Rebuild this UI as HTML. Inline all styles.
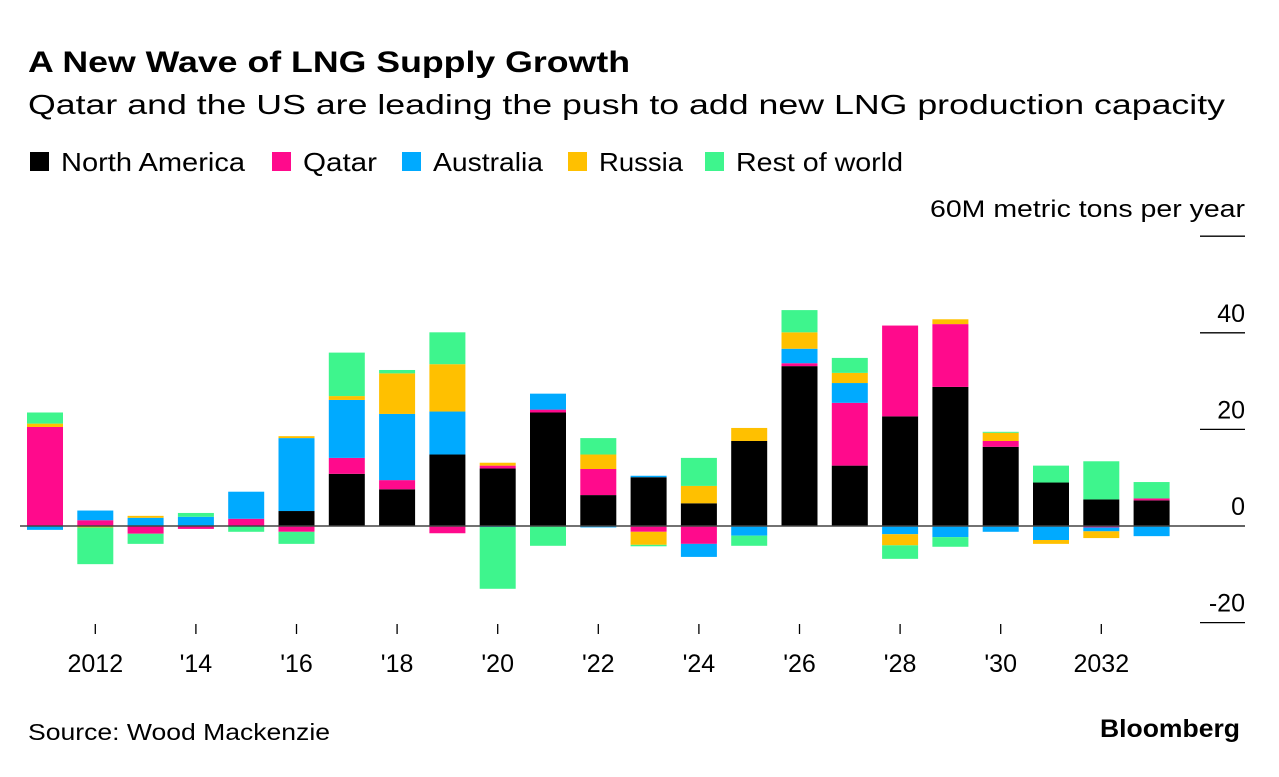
<!DOCTYPE html>
<html><head><meta charset="utf-8"><style>
body{margin:0;background:#fff;font-family:"Liberation Sans",sans-serif;}
svg text{font-family:"Liberation Sans",sans-serif;}
</style></head><body>
<svg width="1279" height="772" viewBox="0 0 1279 772">
<text x="28" y="72" font-size="30" font-weight="bold" fill="#000" textLength="602" lengthAdjust="spacingAndGlyphs">A New Wave of LNG Supply Growth</text>
<text x="28" y="114" font-size="28" fill="#000" textLength="1197" lengthAdjust="spacingAndGlyphs">Qatar and the US are leading the push to add new LNG production capacity</text>
<g id="legend"></g>
<text x="1245" y="217" font-size="24" text-anchor="end" fill="#000" textLength="315" lengthAdjust="spacingAndGlyphs">60M metric tons per year</text>
<g id="grid"></g>
<g id="bars"></g>
<g id="xaxis"></g>
<text x="28" y="740" font-size="23" fill="#000" textLength="302" lengthAdjust="spacingAndGlyphs">Source: Wood Mackenzie</text>
<text x="1240" y="737" font-size="25" font-weight="bold" text-anchor="end" fill="#000" textLength="140" lengthAdjust="spacingAndGlyphs">Bloomberg</text>
</svg>
<script>
const years=[2011,2012,2013,2014,2015,2016,2017,2018,2019,2020,2021,2022,2023,2024,2025,2026,2027,2028,2029,2030,2031,2032,2033];
const seriesNames=["North America","Qatar","Australia","Russia","Rest of world"];
const northAmerica=[0,0,0,0,0,3.1,10.8,7.6,14.8,11.9,23.5,6.4,10.1,4.7,17.6,33.1,12.5,22.7,28.8,16.4,9.0,5.5,5.3];
const qatar=[20.5,1.2,-1.6,-0.6,1.5,-1.2,3.3,1.9,-1.5,0.6,0.6,5.4,-1.2,-3.7,0,0.6,13.0,18.8,13.0,1.2,0,-0.3,0.4];
const australia=[-0.8,2.0,1.7,1.9,5.6,15.1,12.0,13.7,8.9,-0.2,3.3,-0.3,0.3,-2.7,-2.0,3.0,4.1,-1.7,-2.3,-1.2,-2.9,-0.8,-2.1];
const russia=[0.7,-0.3,0.4,0,0,0.4,0.8,8.4,9.8,0.6,0,3.0,-2.7,3.6,2.7,3.4,2.1,-2.3,1.0,1.7,-0.8,-1.4,0];
const restOfWorld=[2.3,-7.6,-2.1,0.8,-1.2,-2.5,9.0,0.7,6.6,-12.8,-4.1,3.4,-0.3,5.8,-2.1,4.6,3.1,-2.8,-2.0,0.2,3.5,7.9,3.4];
const yTicks=[60,40,20,0,-20];
const yTickLabels=["","40","20","0","-20"];
const xTickYears=[2012,2014,2016,2018,2020,2022,2024,2026,2028,2030,2032];
const xTickLabels=["2012","'14","'16","'18","'20","'22","'24","'26","'28","'30","2032"];

const colors=["#000000","#ff0a8c","#00aaff","#ffc000","#3ef58d"];
const legendSwatchX=[30,272,402,568,705];
const legendTextLen=[184,74,110,84,167];
const NS="http://www.w3.org/2000/svg";
const y=v=>526-v*4.83;
const x=yr=>45+(yr-2011)*50.3;
const bw=36;
function mk(tag,attrs,parent){const e=document.createElementNS(NS,tag);for(const k in attrs)e.setAttribute(k,attrs[k]);parent.appendChild(e);return e;}

const lg=document.getElementById('legend');
seriesNames.forEach((n,i)=>{
  const lx=legendSwatchX[i];
  const r=mk('rect',{x:lx,y:152,width:19,height:19,fill:colors[i]},lg);
  
  
  const t=mk('text',{x:lx+31,y:171,'font-size':26,fill:'#000',textLength:legendTextLen[i],lengthAdjust:'spacingAndGlyphs'},lg);
  t.textContent=n;
  
  
});

const g=document.getElementById('grid');
yTicks.forEach((v,i)=>{
  const l=mk('line',{x1:1200,x2:1245,y1:y(v),y2:y(v),stroke:'#000','stroke-width':1.3},g);
  
  
  if(yTickLabels[i]){
    const t=mk('text',{x:1245,y:y(v)-11,'font-size':25,'text-anchor':'end',fill:'#000'},g);
    t.textContent=yTickLabels[i];
    
    
  }
});

const bg=document.getElementById('bars');
const all=[northAmerica,qatar,australia,russia,restOfWorld];
years.forEach((yr,j)=>{
  let pos=0,neg=0;
  all.forEach((s,i)=>{
    const v=s[j]; if(!v) return;
    let a,b;
    if(v>0){a=pos;b=pos+v;pos=b;}else{a=neg;b=neg+v;neg=b;}
    const top=y(Math.max(a,b)),bot=y(Math.min(a,b));
    const r=mk('rect',{x:x(yr)-bw/2,y:top,width:bw,height:bot-top,fill:colors[i]},bg);
    
    
  });
});
const zl=mk('line',{x1:20,x2:1245,y1:y(0),y2:y(0),stroke:'#444','stroke-width':1.5},bg);



const xg=document.getElementById('xaxis');
xTickYears.forEach((yr,i)=>{
  const l=mk('line',{x1:x(yr),x2:x(yr),y1:624,y2:634,stroke:'#000','stroke-width':1.3},xg);
  
  
  const t=mk('text',{x:x(yr),y:672,'font-size':25,'text-anchor':'middle',fill:'#000'},xg);
  t.textContent=xTickLabels[i];
  
  
});
</script>
</body></html>
